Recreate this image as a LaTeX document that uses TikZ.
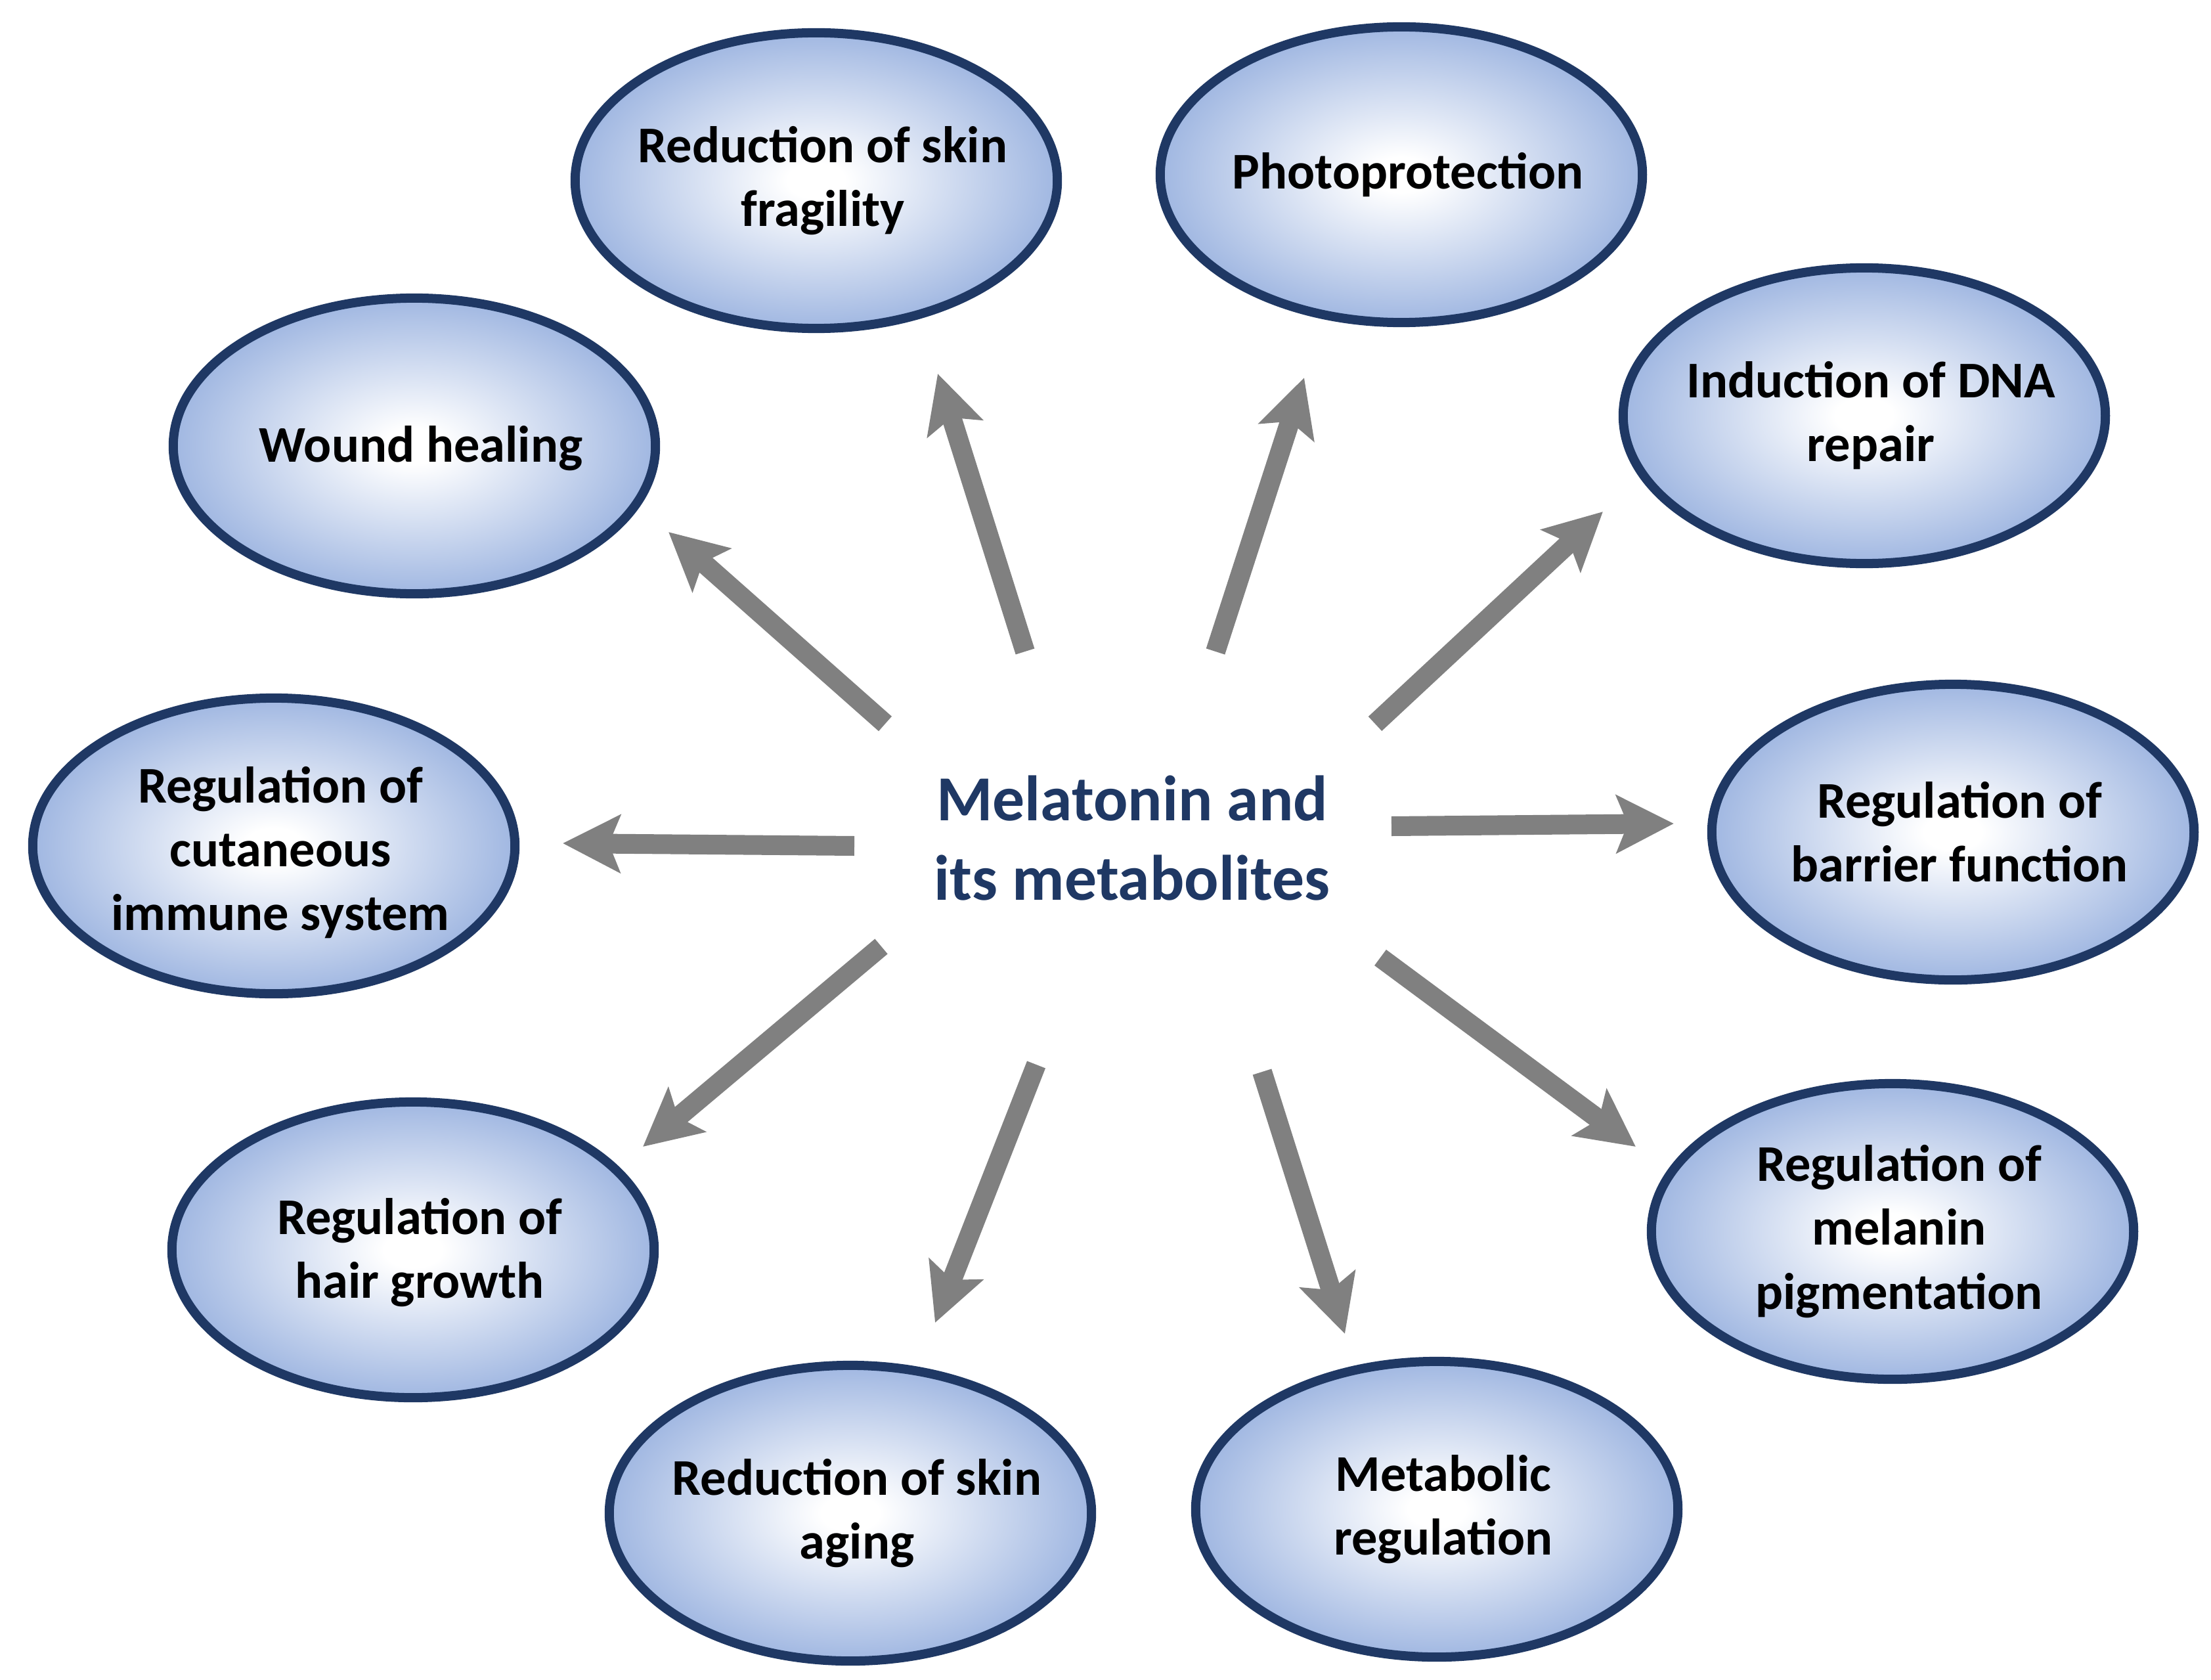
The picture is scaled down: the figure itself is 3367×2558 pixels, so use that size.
\documentclass[tikz,border=0pt]{standalone}
\usepackage{fontspec}
\setmainfont{Carlito}
\usetikzlibrary{arrows.meta,shapes.geometric}
\definecolor{navy}{RGB}{31,56,100}
\definecolor{bubblue}{RGB}{143,170,220}
\definecolor{arrgray}{RGB}{128,128,128}
\pgfdeclareradialshading{bubshade}{\pgfpoint{0bp}{0bp}}{color(0bp)=(white); color(3bp)=(white); color(29bp)=(bubblue); color(50bp)=(bubblue)}
\tikzset{
  bub/.style={ellipse, draw=navy, line width=0.14cm, shading=bubshade,
    minimum width=7.34cm, minimum height=4.50cm, inner sep=0pt},
  txt/.style={align=center, text=black, inner sep=0pt, xshift=0.1cm,
    font=\fontsize{22.3pt}{27.6pt}\selectfont\bfseries},
  ctr/.style={align=center, text=navy, inner sep=0pt,
    font=\fontsize{27.8pt}{34.6pt}\selectfont\bfseries},
  arr/.style={draw=arrgray, line width=0.3cm,
    -{Stealth[length=0.87cm,width=0.87cm,inset=0.17cm,fill=arrgray]}}
}
\begin{document}
\begin{tikzpicture}[x=0.01cm,y=-0.01cm]
\useasboundingbox (0,0) rectangle (3367,2558);
% bubbles
\node[bub] (e1) at (1243,275) {};
\node[txt] (e1t) at (e1) {Reduction of skin\\fragility};
\node[bub] (e2) at (2134,266) {};
\node[txt] (e2t) at (e2) {Photoprotection};
\node[bub] (e3) at (631,679) {};
\node[txt] (e3t) at ([yshift=-0.04cm]e3) {Wound healing};
\node[bub] (e4) at (2839,633) {};
\node[txt] (e4t) at (e4) {Induction of DNA\\repair};
\node[bub] (e5) at (417,1288) {};
\node[txt] (e5t) at ([yshift=-0.1cm]e5) {Regulation of\\cutaneous\\immune system};
\node[bub] (e6) at (2974,1267) {};
\node[txt] (e6t) at (e6) {Regulation of\\barrier function};
\node[bub] (e7) at (629,1903) {};
\node[txt] (e7t) at ([yshift=-0.04cm]e7) {Regulation of\\hair growth};
\node[bub] (e8) at (2882,1875) {};
\node[txt] (e8t) at (e8) {Regulation of\\melanin\\pigmentation};
\node[bub] (e9) at (1295,2304) {};
\node[txt] (e9t) at (e9) {Reduction of skin\\aging};
\node[bub] (e10) at (2188,2298) {};
\node[txt] (e10t) at (e10) {Metabolic\\regulation};
% centre
\node[ctr] (mel) at (1724,1276) {Melatonin and\\its metabolites};
% arrow ends
\coordinate (t1) at (1561,992);  \coordinate (h1) at (1428,569);
\coordinate (t2) at (1851,992);  \coordinate (h2) at (1986,575);
\coordinate (t3) at (1348,1102); \coordinate (h3) at (1018,810);
\coordinate (t4) at (2094,1102); \coordinate (h4) at (2441,779);
\coordinate (t5) at (1301,1288); \coordinate (h5) at (857,1284);
\coordinate (t6) at (2119,1258); \coordinate (h6) at (2549,1254);
\coordinate (t7) at (1342,1441); \coordinate (h7) at (979,1746);
\coordinate (t8) at (2102,1458); \coordinate (h8) at (2491,1746);
\coordinate (t9) at (1578,1621); \coordinate (h9) at (1424,2014);
\coordinate (t10) at (1922,1632); \coordinate (h10) at (2048,2031);
\foreach \i in {1,...,10}{ \draw[arr] (t\i) -- (h\i); }
\end{tikzpicture}
\end{document}
